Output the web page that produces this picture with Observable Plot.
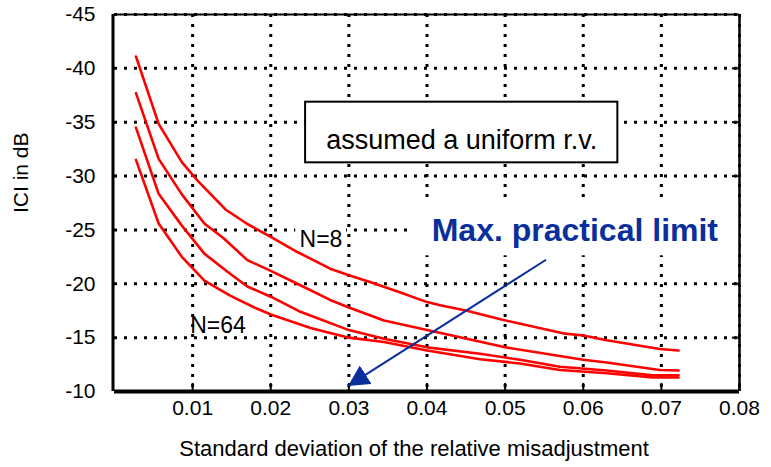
<!DOCTYPE html>
<html>
<head>
<meta charset="utf-8">
<script src="https://cdn.jsdelivr.net/npm/d3@7"></script>
<script src="https://cdn.jsdelivr.net/npm/@observablehq/plot@0.6"></script>
<style>
  body { margin: 0; background: #fff; }
  #chart svg { display: block; }
</style>
</head>
<body>
<div id="chart"></div>
<script>
// ---- data ----
const xTicks = [0.01, 0.02, 0.03, 0.04, 0.05, 0.06, 0.07, 0.08];
const yTicks = [-45, -40, -35, -30, -25, -20, -15, -10];
const yGrid = [-45, -40, -35, -30, -25, -20, -15];

const n8X  = [0.00275,0.00565,0.00862,0.0106,0.0142,0.0170,0.0200,0.0234,0.0276,0.0300,0.0328,0.0366,0.0400,0.0417,0.0451,0.0494,0.0574,0.0600,0.0630,0.0698,0.0722];
const n8Y  = [-41.1,-34.85,-31.3,-29.6,-26.9,-25.55,-24.35,-22.95,-21.4,-20.8,-20.15,-19.2,-18.3,-18.0,-17.5,-16.7,-15.4,-15.2,-14.75,-13.95,-13.8];

const n16X = [0.00275,0.00565,0.00862,0.0115,0.0140,0.0170,0.0200,0.0234,0.0276,0.0300,0.0345,0.0400,0.0451,0.0500,0.0600,0.0630,0.0698,0.0722];
const n16Y = [-37.7,-31.6,-28.3,-25.6,-24.2,-22.2,-21.2,-20.0,-18.5,-17.8,-16.6,-15.7,-14.9,-14.1,-12.95,-12.7,-12.0,-11.95];

const n32X = [0.00275,0.00565,0.00862,0.0115,0.0145,0.0170,0.0200,0.0238,0.0300,0.0345,0.0400,0.0468,0.0519,0.0570,0.0630,0.0689,0.0722];
const n32Y = [-34.5,-28.35,-25.4,-22.8,-21.1,-19.75,-18.8,-17.4,-15.7,-14.9,-14.1,-13.5,-12.95,-12.3,-11.95,-11.5,-11.5];

const n64X = [0.00275,0.00565,0.00862,0.0115,0.0148,0.0179,0.0200,0.0251,0.0300,0.0345,0.0400,0.0468,0.0519,0.0570,0.0630,0.0689,0.0722];
const n64Y = [-31.5,-25.6,-22.5,-20.3,-18.9,-17.8,-17.15,-15.9,-15.0,-14.6,-13.8,-13.0,-12.6,-12.0,-11.7,-11.3,-11.3];

const seriesNames = ["N=8", "N=16", "N=32", "N=64"];
const seriesX = [n8X, n16X, n32X, n64X];
const seriesY = [n8Y, n16Y, n32Y, n64Y];

const xLabel = "Standard deviation of the relative misadjustment";
const yLabel = "ICI in dB";
const boxText = "assumed a uniform r.v.";
const limitText = "Max. practical limit";

// ---- build table ----
const rows = [];
seriesNames.forEach((name, i) => {
  seriesX[i].forEach((x, j) => rows.push({series: name, x, y: seriesY[i][j]}));
});

const BLUE = "#0a2f9c";
const FONT = "'Liberation Sans', Arial, Helvetica, sans-serif";

function filledArrow(color, context) {
  const doc = (context && context.document) || document;
  const ns = "http://www.w3.org/2000/svg";
  const m = doc.createElementNS(ns, "marker");
  m.setAttribute("viewBox", "0 -11 21 22");
  m.setAttribute("markerWidth", "21");
  m.setAttribute("markerHeight", "22");
  m.setAttribute("markerUnits", "userSpaceOnUse");
  m.setAttribute("refX", "20");
  m.setAttribute("refY", "0");
  m.setAttribute("orient", "auto");
  const p = doc.createElementNS(ns, "path");
  p.setAttribute("d", "M0,-11L21,0L0,11Z");
  p.setAttribute("fill", color);
  p.setAttribute("stroke", "none");
  m.appendChild(p);
  return m;
}

const dotted = {stroke: "black", strokeWidth: 3, strokeDasharray: "3,7"};

const chart = Plot.plot({
  width: 771,
  height: 467,
  marginLeft: 114,
  marginRight: 32,
  marginTop: 14,
  marginBottom: 76,
  style: {fontFamily: FONT, fontSize: "21px", color: "black", background: "white", overflow: "visible"},
  x: {domain: [0, 0.08], ticks: xTicks, tickFormat: d => String(d), tickSize: 0, tickPadding: 9, label: null},
  y: {domain: [-10, -45], ticks: yTicks, tickFormat: d => String(d), tickSize: 0, tickPadding: 19, label: null},
  marks: [
    // grid
    Plot.ruleY(yGrid, dotted),
    Plot.ruleX(xTicks, dotted),
    // white backgrounds of the text labels (cover the grid)
    Plot.rect([limitText], {x1: 0.0383, x2: 0.08, y1: -27.7, y2: -22.6, fill: "white"}),
    Plot.rect(["N=8"], {x1: 0.0232, x2: 0.0297, y1: -25.8, y2: -24.2, fill: "white"}),
    // frame
    Plot.ruleY([-45], {stroke: "black", strokeWidth: 2}),
    Plot.ruleX([0.08], {stroke: "black", strokeWidth: 2.5}),
    Plot.ruleX([0], {stroke: "black", strokeWidth: 3, dx: -1.5}),
    Plot.ruleY([-10], {stroke: "black", strokeWidth: 4}),
    // small tick marks on right and bottom borders
    Plot.ruleY([-40, -35, -30, -20, -15], {y: d => d, x1: 0.0791, x2: 0.08, stroke: "black", strokeWidth: 2}),
    Plot.ruleX(xTicks, {x: d => d, y1: -10, y2: -10.75, stroke: "black", strokeWidth: 2}),
    // curves
    Plot.line(rows, {x: "x", y: "y", z: "series", stroke: "#ff0000", strokeWidth: 2.6}),
    // box annotation
    Plot.rect([boxText], {x1: 0.02446, x2: 0.06443, y1: -36.86, y2: -31.23, fill: "white", stroke: "black", strokeWidth: 2}),
    Plot.text([boxText], {x: 0.04445, y: -33.3, text: d => d, fontSize: 27, fill: "black", lineAnchor: "middle"}),
    // series labels
    Plot.text(["N=8"], {x: 0.02369, y: -24.08, text: d => d, fontSize: 23, textAnchor: "start", fill: "black"}),
    Plot.text(["N=64"], {x: 0.00968, y: -16.10, text: d => d, fontSize: 23, textAnchor: "start", fill: "black"}),
    // max practical limit
    Plot.text([limitText], {x: 0.0406, y: -24.95, text: d => d, fontSize: 32, fontWeight: "bold", textAnchor: "start", fill: BLUE}),
    Plot.link([limitText], {x1: 0.05524, y1: -22.23, x2: 0.0300, y2: -10.56, stroke: BLUE, strokeWidth: 2, markerEnd: filledArrow}),
    // axis titles
    Plot.text([xLabel], {frameAnchor: "bottom", dx: -13, dy: 64, text: d => d, fontSize: 22, fill: "black"}),
    Plot.text([yLabel], {frameAnchor: "left", rotate: -90, dx: -93, dy: 10, text: d => d, fontSize: 21, fill: "black"})
  ]
});

document.getElementById("chart").appendChild(chart);
</script>
</body>
</html>
